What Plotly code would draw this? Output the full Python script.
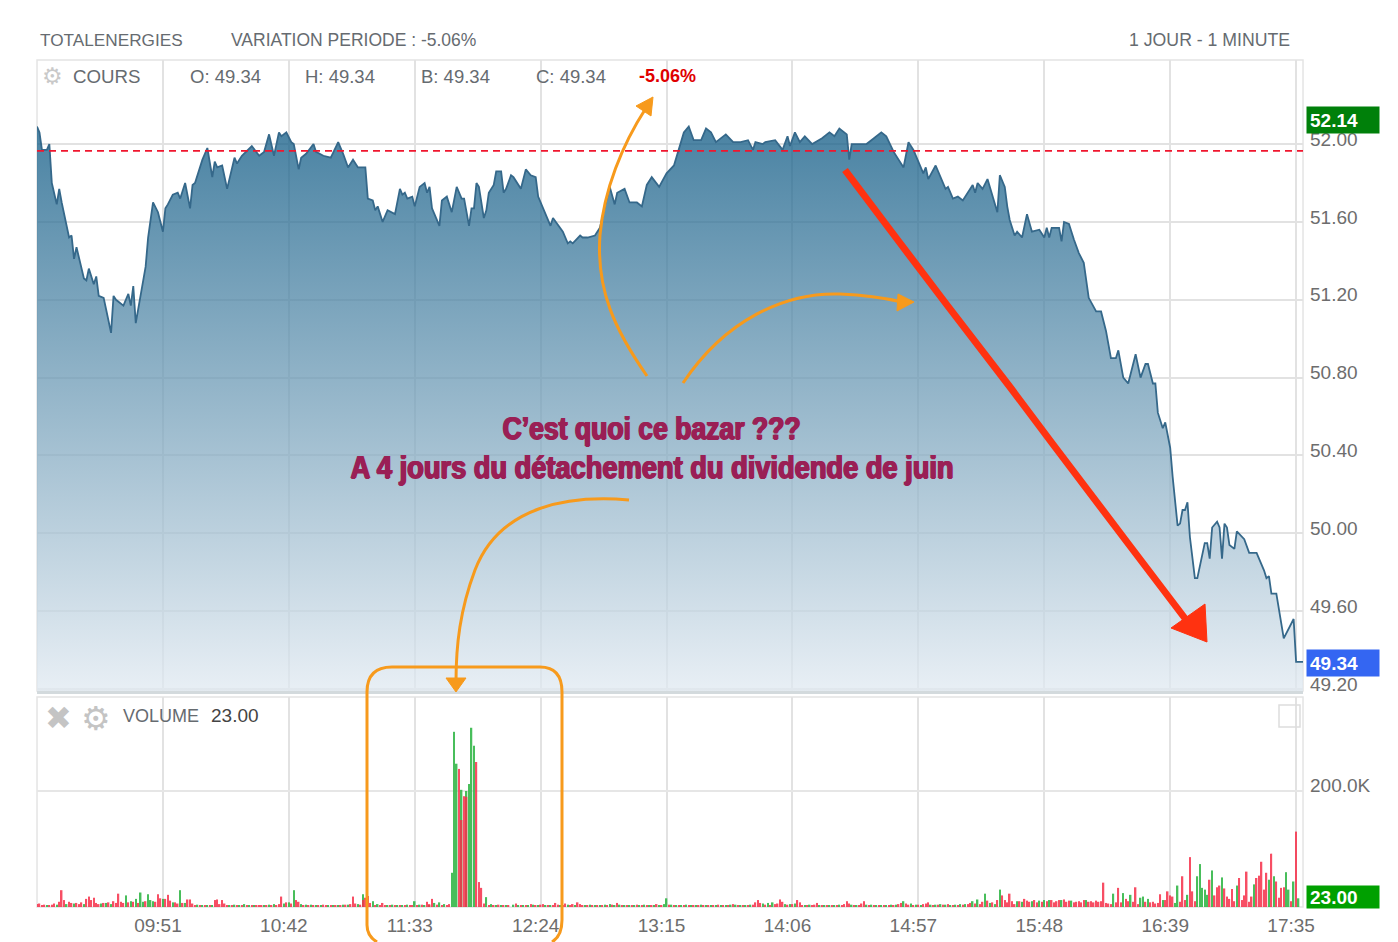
import plotly.graph_objects as go

W, H = 1398, 942

# ---------- data ----------
tick_minutes = [51, 102, 153, 204, 255, 306, 357, 408, 459, 510]
tick_labels = ["09:51", "10:42", "11:33", "12:24", "13:15", "14:06", "14:57", "15:48", "16:39", "17:35"]
price_ticks = [49.2, 49.6, 50.0, 50.4, 50.8, 51.2, 51.6, 52.0]
price_tick_labels = ["49.20", "49.60", "50.00", "50.40", "50.80", "51.20", "51.60", "52.00"]
previous_close = 51.965

price_min = [0,1,2,4,5,6,8,9,10,12,13,14,15,16,19,20,21,23,24,25,27,28,30,31,32,35,37,38,39,40,42,44,45,47,49,51,52,53,55,57,58,60,62,63,64,67,69,71,72,73,75,77,80,81,83,87,90,92,94,96,98,99,101,103,104,106,107,109,112,113,116,119,122,124,126,128,130,133,134,136,137,138,140,142,145,147,148,149,150,152,153,155,157,158,159,160,163,164,166,168,170,172,173,175,176,177,178,179,181,182,183,185,186,188,189,190,192,193,196,198,200,202,203,207,208,209,213,215,216,217,220,221,223,226,228,230,232,234,235,238,240,243,245,247,249,252,255,258,260,262,264,266,269,271,273,275,279,282,285,288,290,291,294,295,299,302,304,305,307,309,311,314,318,321,323,325,328,329,330,336,339,342,344,347,351,353,355,359,360,361,364,368,369,371,373,375,379,380,381,383,385,389,390,392,393,394,396,397,399,401,403,406,408,409,410,411,414,415,416,418,420,422,424,426,429,431,433,435,437,438,440,442,445,447,449,450,452,453,454,456,457,459,460,462,463,464,465,466,467,469,470,473,474,475,476,478,479,480,481,482,483,485,486,489,491,494,497,498,499,500,502,505,509,510,513]
price_val = [52.09,52.06,51.97,51.97,52.00,51.80,51.69,51.77,51.70,51.57,51.52,51.53,51.41,51.47,51.31,51.30,51.36,51.28,51.32,51.22,51.21,51.15,51.03,51.22,51.20,51.17,51.23,51.17,51.27,51.08,51.22,51.37,51.52,51.70,51.65,51.55,51.67,51.69,51.74,51.75,51.72,51.80,51.67,51.79,51.80,51.92,51.98,51.83,51.91,51.88,51.89,51.77,51.93,51.90,51.94,51.99,51.94,51.96,52.05,51.94,52.06,52.04,52.06,52.01,52.00,51.87,51.93,51.95,52.00,51.96,51.94,51.93,52.01,51.95,51.88,51.92,51.88,51.88,51.72,51.71,51.66,51.68,51.60,51.66,51.64,51.77,51.74,51.75,51.72,51.73,51.68,51.78,51.80,51.75,51.78,51.67,51.58,51.71,51.73,51.65,51.78,51.72,51.72,51.58,51.67,51.67,51.80,51.78,51.62,51.66,51.75,51.79,51.86,51.86,51.75,51.77,51.84,51.83,51.77,51.87,51.84,51.83,51.73,51.61,51.58,51.62,51.55,51.49,51.50,51.49,51.53,51.52,51.52,51.53,51.57,51.68,51.78,51.69,51.75,51.77,51.70,51.70,51.68,51.79,51.83,51.78,51.85,51.89,51.97,52.06,52.09,52.02,52.02,52.08,52.06,52.01,52.05,52.01,52.01,52.02,51.97,52.01,52.00,52.01,52.02,51.97,52.04,51.99,52.06,52.01,52.04,52.00,52.03,52.06,52.04,52.08,52.05,51.92,52.00,52.00,52.03,52.06,52.04,51.96,51.88,52.01,51.97,51.85,51.88,51.82,51.89,51.77,51.78,51.72,51.73,51.71,51.79,51.75,51.80,51.77,51.82,51.65,51.84,51.78,51.68,51.61,51.53,51.55,51.52,51.64,51.55,51.56,51.52,51.57,51.52,51.57,51.57,51.50,51.60,51.59,51.51,51.44,51.39,51.21,51.14,51.14,51.04,50.90,50.90,50.94,50.80,50.77,50.92,50.80,50.87,50.87,50.77,50.77,50.62,50.54,50.57,50.44,50.29,50.04,50.05,50.12,50.12,50.16,49.98,49.77,49.77,49.95,49.95,49.87,50.03,50.06,50.03,49.87,50.05,50.03,49.94,49.92,50.01,49.97,49.90,49.90,49.81,49.77,49.78,49.69,49.69,49.46,49.56,49.34,49.34]

# volume bars as (minute, thousands of shares)
vol_up_morning = [(4,3),(8,4),(12,5),(15,6),(19,5),(26,6),(28,7),(30,5),(36,20),(38,10),(40,14),(42,25),(43,9),(45,22),(46,12),(47,10),(51,14),(55,8),(58,29),(60,7),(65,4),(67,3),(69,3),(71,3),(78,3),(80,4),(82,3),(84,5),(86,3),(88,3),(92,3),(94,4),(96,5),(100,6),(102,8),(104,29),(107,5),(109,4),(111,4),(113,3),(115,3),(118,3),(120,3),(122,3),(124,4),(126,4),(130,5),(132,22),(136,10),(138,5),(142,3),(144,4),(146,3),(148,3),(150,4),(153,10),(155,4),(157,3),(159,3),(161,7),(163,8),(165,5)]
vol_up_burst = [(168,59),(169,302),(170,247),(172,202),(174,200),(175,212),(176,309),(177,278),(182,17)]
vol_up_midday = [(184,5),(186,3),(188,3),(190,3),(193,4),(195,3),(197,3),(199,3),(201,4),(203,3),(206,3),(208,3),(212,3),(215,4),(218,3),(222,3),(224,4),(226,3),(228,3),(230,4),(232,5),(234,3),(236,4),(238,3),(240,3),(242,3),(244,3),(246,4),(248,3),(250,3),(252,3),(254,5),(255,15),(257,4),(259,3),(261,3),(263,4),(265,3),(267,3),(269,4),(271,3),(273,2),(275,3),(277,3),(279,3),(281,4),(283,4),(285,3),(287,3),(289,4),(294,6),(296,7),(298,8),(303,5),(305,5),(307,6),(311,3),(313,4),(317,3),(319,3),(321,3),(323,3),(325,4),(330,4),(332,3),(336,4),(338,4),(340,3),(342,3),(344,3),(346,4),(348,4),(351,10),(354,6),(356,4),(358,3),(362,4),(364,4),(366,5),(368,4),(370,3),(372,4),(374,5),(376,5)]
vol_up_close = [(379,10),(381,13),(384,23),(386,7),(388,5),(390,30),(397,10),(399,9),(403,10),(406,11),(408,12),(410,12),(415,12),(419,11),(425,12),(436,23),(440,24),(443,21),(447,16),(448,18),(450,14),(456,12),(461,7),(462,37),(466,21),(470,53),(471,74),(472,33),(473,30),(474,21),(476,63),(480,51),(486,37),(493,39),(499,47),(501,53),(506,60),(507,30),(509,44),(511,15)]

vol_down_morning = [(0,5),(1,6),(2,3),(3,4),(5,3),(6,4),(7,6),(9,9),(10,29),(11,12),(13,9),(14,7),(16,7),(17,5),(18,8),(20,14),(21,18),(22,12),(23,16),(24,7),(25,5),(27,7),(29,8),(31,10),(32,7),(33,23),(34,9),(35,7),(37,8),(39,9),(41,7),(44,10),(48,9),(49,22),(50,15),(52,14),(53,21),(54,11),(56,8),(57,6),(59,7),(61,13),(62,13),(63,6),(64,3),(66,3),(68,2),(70,3),(72,12),(73,13),(74,5),(75,12),(76,6),(77,3),(79,2),(81,3),(83,2),(85,2),(87,3),(89,2),(90,2),(91,3),(93,2),(95,3),(97,3),(98,5),(99,18),(101,8),(103,6),(105,12),(106,9),(108,3),(110,3),(112,2),(114,3),(116,4),(117,2),(119,3),(121,3),(123,3),(125,4),(127,5),(128,18),(129,6),(131,4),(132,12),(133,16),(134,19),(135,7),(137,3),(139,3),(140,7),(141,2),(143,2),(145,2),(147,2),(149,2),(151,2),(152,3),(154,3),(156,4),(158,9),(159,5),(160,14),(162,4),(164,3),(166,3),(167,5)]
vol_down_burst = [(171,238),(172,150),(173,191),(174,190),(178,250),(179,43),(180,33),(181,6)]
vol_down_midday = [(183,3),(185,3),(187,4),(189,3),(191,2),(194,6),(196,3),(198,3),(200,5),(202,3),(204,4),(205,5),(207,3),(209,2),(210,7),(211,4),(213,3),(214,6),(216,3),(217,5),(219,8),(220,5),(221,3),(223,2),(225,3),(227,2),(229,3),(231,2),(233,4),(235,7),(237,3),(239,2),(241,3),(243,4),(245,2),(247,3),(249,3),(251,5),(253,3),(256,4),(258,3),(260,3),(262,2),(264,3),(266,2),(268,2),(270,3),(272,2),(274,3),(276,4),(278,3),(280,3),(282,5),(284,3),(286,2),(288,3),(290,4),(291,8),(292,12),(293,7),(295,4),(297,3),(299,5),(300,6),(301,13),(302,9),(304,4),(306,5),(308,12),(309,8),(310,3),(312,2),(314,3),(315,4),(316,7),(318,3),(320,3),(322,2),(324,3),(326,3),(327,5),(328,10),(329,6),(331,3),(333,3),(334,6),(335,10),(337,3),(339,2),(341,3),(343,2),(345,3),(347,2),(349,5),(350,7),(352,6),(353,4),(355,3),(357,4),(359,5),(360,6),(361,8),(363,3),(365,4),(367,4),(369,5),(371,3),(373,3),(375,4),(377,5),(378,7)]
vol_down_close = [(380,6),(382,5),(383,9),(385,11),(387,8),(389,12),(391,20),(392,12),(393,8),(394,23),(395,10),(396,5),(398,10),(400,14),(401,11),(402,9),(404,12),(405,8),(407,9),(409,10),(411,12),(412,8),(413,10),(414,12),(416,13),(417,9),(418,11),(420,8),(421,9),(422,10),(423,8),(424,12),(426,9),(427,10),(428,8),(429,11),(430,9),(431,10),(432,42),(433,7),(434,6),(435,5),(437,8),(438,33),(439,8),(441,14),(442,10),(444,9),(445,34),(446,5),(449,9),(451,8),(452,9),(453,6),(454,7),(455,22),(457,12),(458,27),(459,20),(460,18),(463,9),(464,53),(465,12),(467,86),(468,27),(469,10),(475,47),(477,20),(478,34),(479,37),(481,32),(482,18),(483,14),(484,31),(485,10),(487,50),(488,12),(489,20),(490,61),(491,9),(492,18),(494,50),(495,54),(496,78),(497,30),(498,59),(500,92),(502,44),(503,16),(504,33),(505,34),(508,10),(510,130)]

vol_up_all = vol_up_morning + vol_up_burst + vol_up_midday + vol_up_close
vol_down_all = vol_down_morning + vol_down_burst + vol_down_midday + vol_down_close

# ---------- helpers for the hand-drawn overlay (page pixels -> paper) ----------
def px(x): return round(x / W, 5)
def py(y): return round(1 - y / H, 5)
def path(cmds):
    out = []
    for c in cmds:
        letter, pts = c[0], c[1:]
        out.append(letter + " ".join(f"{px(a)},{py(b)}" for a, b in pts))
    return " ".join(out)

ORANGE = "#f79a1c"
RED = "#ff3210"
GREY = "#666b70"

fig = go.Figure()

fig.add_trace(go.Scatter(
    x=price_min, y=price_val, mode="lines", xaxis="x", yaxis="y",
    line=dict(color="#35688a", width=1.8), fill="tozeroy",
    fillgradient=dict(type="vertical", start=49.2, stop=52.09,
                      colorscale=[[0, "rgba(224,233,241,0.75)"], [1, "rgba(13,89,132,0.75)"]]),
    hoverinfo="skip"))
fig.add_trace(go.Scatter(
    x=[0, 512.8], y=[previous_close, previous_close], mode="lines", xaxis="x", yaxis="y",
    line=dict(color="#f0162e", width=1.6, dash="7px,5px"), hoverinfo="skip"))
fig.add_trace(go.Bar(x=[m for m, _ in vol_up_all], y=[v for _, v in vol_up_all], xaxis="x2", yaxis="y2", width=0.6,
                     marker=dict(color="#35b84a", line_width=0), opacity=0.9, hoverinfo="skip"))
fig.add_trace(go.Bar(x=[m for m, _ in vol_down_all], y=[v for _, v in vol_down_all], xaxis="x2", yaxis="y2", width=0.6,
                     marker=dict(color="#f6304a", line_width=0), opacity=0.85, hoverinfo="skip"))

axis_font = dict(family="Liberation Sans", size=19, color="#6d6d6d")
x_dom = [px(37), px(1303)]
common_x = dict(range=[0, 512.8], domain=x_dom, tickmode="array", tickvals=tick_minutes, zeroline=False,
                showgrid=True, gridcolor="#e2e2e2", gridwidth=2)

fig.update_layout(
    width=W, height=H, autosize=False, margin=dict(l=0, r=0, t=0, b=0, autoexpand=False),
    paper_bgcolor="white", plot_bgcolor="white", showlegend=False, barmode="overlay",
    font=dict(family="Liberation Sans", color=GREY),
    xaxis=dict(**common_x, anchor="y", ticktext=[""] * 10, showline=True, linecolor="#d3dadd", linewidth=3),
    yaxis=dict(range=[49.19, 52.432], domain=[py(691), py(60)], anchor="x", side="right",
               tickmode="array", tickvals=price_ticks, ticktext=price_tick_labels, tickfont=axis_font,
               gridcolor="#e2e2e2", gridwidth=2, zeroline=False, showline=False, ticks="",
               ticklabelshift=-5, ticklabelstandoff=6),
    xaxis2=dict(**common_x, anchor="y2", ticktext=tick_labels, tickfont=axis_font, ticks="",
                showline=False, ticklabelshift=-5, ticklabelstandoff=5),
    yaxis2=dict(range=[0, 362], domain=[py(907), py(697)], anchor="x2", side="right",
                tickmode="array", tickvals=[200], ticktext=["200.0K"], tickfont=axis_font,
                gridcolor="#e6e6e6", gridwidth=2, zeroline=False, showline=False, ticks="",
                ticklabelshift=-6, ticklabelstandoff=6),
)

# panel frames
for top, bottom in [(60, 691), (697, 907)]:
    fig.add_shape(type="rect", xref="paper", yref="paper", x0=px(37), x1=px(1303), y0=py(bottom), y1=py(top),
                  line=dict(color="#e4e4e4", width=1.5), layer="below")

# ---------- text ----------
def label(x, y, text, size=18, color=GREY, anchor="left", weight=None, family="Liberation Sans"):
    fig.add_annotation(xref="paper", yref="paper", x=px(x), y=py(y), text=text, showarrow=False,
                       xanchor=anchor, yanchor="middle",
                       font=dict(family=family, size=size, color=color, weight=weight))

label(38, 40, "TOTALENERGIES", 17.2)
label(229, 40, "VARIATION PERIODE : -5.06%", 17.5)
label(1292, 40, "1 JOUR - 1 MINUTE", 17.7, anchor="right")
label(71, 76, "COURS", 18.7)
label(188, 76, "O: 49.34", 18.5)
label(303, 76, "H: 49.34", 18.5)
label(419, 76, "B: 49.34", 18.5)
label(534, 76, "C: 49.34", 18.5)
label(637, 76, "-5.06%", 18, color="#e00000", weight=600)
label(121, 716, "VOLUME", 18)
label(209, 716, "23.00", 19, color="#444444")
label(52, 76, "\u2699", 23, color="#c9c9c9", anchor="center", family="DejaVu Sans")
label(96, 718, "\u2699", 33, color="#c4c4c4", anchor="center", family="DejaVu Sans")
label(58, 718, "\u2716", 32, color="#c4c4c4", anchor="center", family="DejaVu Sans")

CENTER = dict(family="Liberation Sans", size=32, color="#9a1f55", weight=700,
              shadow="1px 0 0 #9a1f55, -1px 0 0 #9a1f55, 0 0.5px 0 #9a1f55")
fig.add_annotation(xref="paper", yref="paper", x=px(652), y=py(428), text="C\u2019est quoi ce bazar ???",
                   showarrow=False, font=CENTER)
fig.add_annotation(xref="paper", yref="paper", x=px(652), y=py(467),
                   text="A 4 jours du d\u00e9tachement du dividende de juin", showarrow=False, font=CENTER)

# value badges, placed on their own axes
def badge(y, yref, text, bg, yshift, height=20):
    fig.add_annotation(xref="paper", yref=yref, x=px(1306), y=y, text=text, showarrow=False,
                       xanchor="left", yanchor="middle", yshift=yshift, align="left", width=66, height=height,
                       borderpad=3, bgcolor=bg, font=dict(family="Liberation Sans", size=19, color="white", weight=600))

badge(52.14, "y", "52.14", "#00800a", -3)
badge(49.34, "y", "49.34", "#3466f2", -1)
badge(23, "y2", "23.00", "#00a000", -3, height=16)

# ---------- overlay drawings ----------
def stroke(d, color=ORANGE, width=3):
    fig.add_shape(type="path", xref="paper", yref="paper", path=d, line=dict(color=color, width=width), layer="above")
def solid(d, color=ORANGE):
    fig.add_shape(type="path", xref="paper", yref="paper", path=d, fillcolor=color, line=dict(color=color, width=1), layer="above")

fig.add_shape(type="path", xref="paper", yref="paper", layer="above", line=dict(color="#dddddd", width=1.5),
              path=path([("M", (1279, 705)), ("L", (1300, 705)), ("L", (1300, 727)), ("L", (1279, 727)), ("Z",)]))

stroke(path([("M", (647, 376)), ("C", (615, 330), (596, 290), (600, 235)), ("C", (604, 190), (622, 145), (646, 108))]))
solid(path([("M", (653, 97)), ("L", (636, 106)), ("L", (651, 116)), ("Z",)]))
stroke(path([("M", (683, 383)), ("C", (725, 320), (785, 292), (840, 294)), ("C", (865, 295), (885, 298), (902, 302))]))
solid(path([("M", (914, 302)), ("L", (898, 294)), ("L", (897, 311)), ("Z",)]))
stroke(path([("M", (629, 500)), ("C", (570, 495), (500, 505), (475, 570)), ("C", (460, 610), (456, 645), (456, 682))]))
solid(path([("M", (456, 692)), ("L", (446, 678)), ("L", (466, 678)), ("Z",)]))
stroke(path([("M", (367, 692)), ("Q", (367, 667), (392, 667)), ("L", (540, 667)), ("Q", (562, 667), (562, 692)),
             ("L", (562, 920)), ("Q", (562, 936), (552, 942)), ("M", (367, 692)), ("L", (367, 925)), ("Q", (367, 936), (377, 942))]))

stroke(path([("M", (845, 170)), ("L", (900, 243)), ("L", (947, 305)), ("L", (1010, 387)), ("L", (1052, 443)),
             ("L", (1130, 546)), ("L", (1190, 625))]), color=RED, width=7)
solid(path([("M", (1171, 628)), ("L", (1205, 604)), ("L", (1207, 642)), ("Z",)]), color=RED)

# squeeze the two headline lines to the width of the condensed face of the reference
post = """
document.body.style.margin = '0';
document.body.style.overflow = 'hidden';
document.querySelectorAll('.annotation-text').forEach(function (t) {
  var s = t.textContent;
  var w = s.indexOf('bazar') >= 0 ? 298 : (s.indexOf('dividende') >= 0 ? 603 : 0);
  if (w) { t.setAttribute('textLength', w); t.setAttribute('lengthAdjust', 'spacingAndGlyphs'); }
});
"""
fig.write_html("out.html", config=dict(displayModeBar=False), post_script=post)
